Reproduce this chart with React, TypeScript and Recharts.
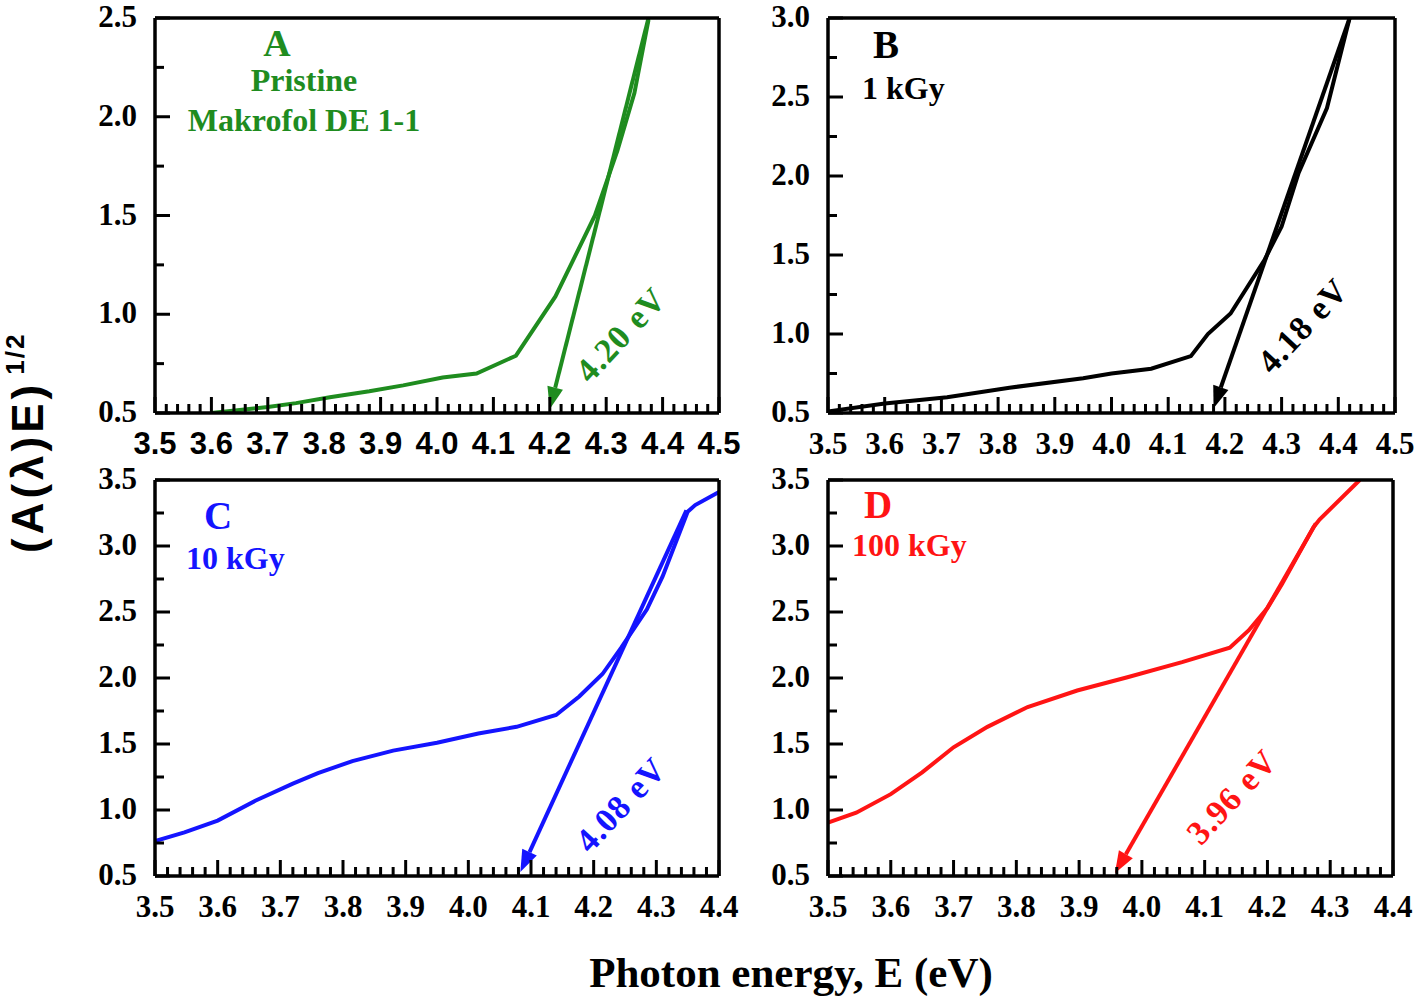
import React from 'react';
import { LineChart, Line, XAxis, YAxis, ReferenceLine } from 'recharts';

const GREEN = '#1f8c1f';
const BLACK = '#000000';
const BLUE = '#1414ff';
const RED = '#ff1414';

// A: pristine Makrofol DE 1-1
const pristineE = [3.6, 3.7, 3.75, 3.81, 3.88, 3.94, 4.01, 4.07, 4.14, 4.21, 4.28, 4.32, 4.35, 4.375];
const pristineY = [0.5, 0.53, 0.55, 0.58, 0.61, 0.64, 0.68, 0.7, 0.79, 1.09, 1.5, 1.83, 2.12, 2.49];
const pristineFitE = [4.375, 4.2];
const pristineFitY = [2.5, 0.52];

// B: 1 kGy
const dose1E = [3.5, 3.6, 3.71, 3.82, 3.95, 4.0, 4.07, 4.14, 4.17, 4.21, 4.27, 4.3, 4.33, 4.38, 4.42];
const dose1Y = [0.51, 0.56, 0.6, 0.66, 0.72, 0.75, 0.78, 0.86, 1.0, 1.13, 1.47, 1.68, 2.02, 2.43, 3.0];
const dose1FitE = [4.42, 4.18];
const dose1FitY = [3.0, 0.53];

// C: 10 kGy
const dose10E = [3.5, 3.547, 3.6, 3.66, 3.72, 3.76, 3.815, 3.88, 3.95, 4.016, 4.077, 4.14, 4.177, 4.214, 4.244, 4.285, 4.31, 4.35, 4.362, 4.4];
const dose10Y = [0.765, 0.83, 0.92, 1.07, 1.2, 1.28, 1.37, 1.45, 1.51, 1.58, 1.63, 1.72, 1.86, 2.03, 2.23, 2.52, 2.77, 3.26, 3.31, 3.41];
const dose10FitE = [4.348, 4.083];
const dose10FitY = [3.27, 0.53];

// D: 100 kGy
const dose100E = [3.5, 3.545, 3.6, 3.65, 3.7, 3.754, 3.818, 3.897, 3.977, 4.064, 4.14, 4.17, 4.2, 4.223, 4.273, 4.283, 4.347];
const dose100Y = [0.905, 0.98, 1.12, 1.285, 1.475, 1.63, 1.78, 1.905, 2.006, 2.12, 2.23, 2.36, 2.53, 2.71, 3.14, 3.2, 3.5];
const dose100FitE = [4.277, 3.957];
const dose100FitY = [3.17, 0.52];

// major tick labels
const xTicksWide = [3.5, 3.6, 3.7, 3.8, 3.9, 4.0, 4.1, 4.2, 4.3, 4.4, 4.5];
const xTicksNarrow = [3.5, 3.6, 3.7, 3.8, 3.9, 4.0, 4.1, 4.2, 4.3, 4.4];
const yTicksA = [0.5, 1.0, 1.5, 2.0, 2.5];
const yTicksB = [0.5, 1.0, 1.5, 2.0, 2.5, 3.0];
const yTicksCD = [0.5, 1.0, 1.5, 2.0, 2.5, 3.0, 3.5];

const SERIF = '"Liberation Serif", "Times New Roman", serif';
const SANS = '"Liberation Sans", Arial, sans-serif';

const toPoints = (xs: number[], ys: number[]) => xs.map((x, i) => ({ x, y: ys[i] }));

// add minor ticks between each pair of majors
const withMinor = (major: number[], parts: number) => {
  const out: number[] = [];
  for (let i = 0; i < major.length - 1; i++) {
    const step = (major[i + 1] - major[i]) / parts;
    for (let k = 0; k < parts; k++) out.push(Math.round((major[i] + k * step) * 1000) / 1000);
  }
  out.push(major[major.length - 1]);
  return out;
};

const isMajor = (v: number, major: number[]) => major.some((m) => Math.abs(m - v) < 1e-6);

const XTick = (props: any) => {
  const { x, y, payload, major, font } = props;
  const big = isMajor(payload.value, major);
  return (
    <g>
      <line x1={x} x2={x} y1={y} y2={y - (big ? 16 : 9)} stroke="#000" strokeWidth={3} />
      {big && (
        <text x={x} y={y + 41} textAnchor="middle" fontFamily={font} fontWeight="bold" fontSize={31} fill="#000">
          {payload.value.toFixed(1)}
        </text>
      )}
    </g>
  );
};

const YTick = (props: any) => {
  const { x, y, payload, major } = props;
  const big = isMajor(payload.value, major);
  return (
    <g>
      <line x1={x} x2={x + (big ? 15 : 9)} y1={y} y2={y} stroke="#000" strokeWidth={3} />
      {big && (
        <text x={x - 18} y={y + 9} textAnchor="end" fontFamily={SERIF} fontWeight="bold" fontSize={31} fill="#000">
          {payload.value.toFixed(1)}
        </text>
      )}
    </g>
  );
};

const arrowShape = (color: string) => (props: any) => {
  const { x1, y1, x2, y2 } = props;
  const ang = Math.atan2(y2 - y1, x2 - x1);
  const len = 22;
  const half = 8;
  const bx = x2 - len * Math.cos(ang);
  const by = y2 - len * Math.sin(ang);
  const px = -Math.sin(ang) * half;
  const py = Math.cos(ang) * half;
  return (
    <g>
      <line x1={x1} y1={y1} x2={bx} y2={by} stroke={color} strokeWidth={4} />
      <polygon points={`${x2},${y2} ${bx + px},${by + py} ${bx - px},${by - py}`} fill={color} />
    </g>
  );
};

type PanelProps = {
  box: { left: number; top: number; right: number; bottom: number };
  curveE: number[];
  curveY: number[];
  fitE: number[];
  fitY: number[];
  xMajor: number[];
  yMajor: number[];
  color: string;
  xFont: string;
};

const W = 1418;
const H = 999;
const frame = { stroke: '#000', strokeWidth: 3.5 };

const Panel = ({ box, curveE, curveY, fitE, fitY, xMajor, yMajor, color, xFont }: PanelProps) => {
  const xDomain = [xMajor[0], xMajor[xMajor.length - 1]];
  const yDomain = [yMajor[0], yMajor[yMajor.length - 1]];
  // every axis takes 1px so that Recharts draws it
  return (
    <div style={{ position: 'absolute', left: 0, top: 0 }}>
      <LineChart
        width={W}
        height={H}
        margin={{ left: box.left - 1, top: box.top - 1, right: W - box.right - 1, bottom: H - box.bottom - 1 }}
      >
        <XAxis
          dataKey="x"
          type="number"
          domain={xDomain}
          ticks={withMinor(xMajor, 5)}
          interval={0}
          allowDataOverflow
          height={1}
          tickSize={0}
          tickMargin={0}
          tickLine={false}
          axisLine={frame}
          tick={(p: any) => <XTick {...p} major={xMajor} font={xFont} />}
        />
        <XAxis
          xAxisId="top"
          orientation="top"
          type="number"
          domain={xDomain}
          height={1}
          tick={false}
          tickLine={false}
          axisLine={frame}
        />
        <YAxis
          type="number"
          domain={yDomain}
          ticks={withMinor(yMajor, 2)}
          interval={0}
          allowDataOverflow
          width={1}
          tickSize={0}
          tickMargin={0}
          tickLine={false}
          axisLine={frame}
          tick={(p: any) => <YTick {...p} major={yMajor} />}
        />
        <YAxis
          yAxisId="r"
          orientation="right"
          type="number"
          domain={yDomain}
          width={1}
          tick={false}
          tickLine={false}
          axisLine={frame}
        />
        <Line
          data={toPoints(curveE, curveY)}
          dataKey="y"
          type="linear"
          stroke={color}
          strokeWidth={4}
          dot={false}
          isAnimationActive={false}
        />
        <ReferenceLine
          segment={[
            { x: fitE[0], y: fitY[0] },
            { x: fitE[1], y: fitY[1] },
          ]}
          ifOverflow="visible"
          stroke={color}
          shape={arrowShape(color)}
        />
      </LineChart>
    </div>
  );
};

const bold = { fontFamily: SERIF, fontWeight: 'bold' as const };

const App = () => {
  return (
    <div style={{ position: 'absolute', left: 0, top: 0, width: W, height: H, background: '#fff' }}>
      <Panel
        box={{ left: 155, top: 18, right: 719, bottom: 413 }}
        curveE={pristineE}
        curveY={pristineY}
        fitE={pristineFitE}
        fitY={pristineFitY}
        xMajor={xTicksWide}
        yMajor={yTicksA}
        color={GREEN}
        xFont={SANS}
      />
      <Panel
        box={{ left: 828, top: 18, right: 1395, bottom: 413 }}
        curveE={dose1E}
        curveY={dose1Y}
        fitE={dose1FitE}
        fitY={dose1FitY}
        xMajor={xTicksWide}
        yMajor={yTicksB}
        color={BLACK}
        xFont={SERIF}
      />
      <Panel
        box={{ left: 155, top: 480, right: 719, bottom: 876 }}
        curveE={dose10E}
        curveY={dose10Y}
        fitE={dose10FitE}
        fitY={dose10FitY}
        xMajor={xTicksNarrow}
        yMajor={yTicksCD}
        color={BLUE}
        xFont={SERIF}
      />
      <Panel
        box={{ left: 828, top: 480, right: 1393, bottom: 876 }}
        curveE={dose100E}
        curveY={dose100Y}
        fitE={dose100FitE}
        fitY={dose100FitY}
        xMajor={xTicksNarrow}
        yMajor={yTicksCD}
        color={RED}
        xFont={SERIF}
      />
      <svg
        width={W}
        height={H}
        style={{ position: 'absolute', left: 0, top: 0, pointerEvents: 'none' }}
      >
        {/* panel A */}
        <text x={277} y={56} textAnchor="middle" fontSize={38} fill={GREEN} {...bold}>A</text>
        <text x={304} y={91} textAnchor="middle" fontSize={32} fill={GREEN} {...bold}>Pristine</text>
        <text x={304} y={131} textAnchor="middle" fontSize={32} fill={GREEN} {...bold}>Makrofol DE 1-1</text>
        <text transform="translate(621,335) rotate(-47)" x={0} y={11} textAnchor="middle" fontSize={34} letterSpacing={1} fill={GREEN} {...bold}>4.20 eV</text>
        {/* panel B */}
        <text x={886} y={58} textAnchor="middle" fontSize={39} fill={BLACK} {...bold}>B</text>
        <text x={862} y={99} fontSize={32} fill={BLACK} {...bold}>1 kGy</text>
        <text transform="translate(1303,326) rotate(-47)" x={0} y={11} textAnchor="middle" fontSize={34} letterSpacing={1} fill={BLACK} {...bold}>4.18 eV</text>
        {/* panel C */}
        <text x={218} y={529} textAnchor="middle" fontSize={39} fill={BLUE} {...bold}>C</text>
        <text x={186} y={569} fontSize={32} fill={BLUE} {...bold}>10 kGy</text>
        <text transform="translate(621,805) rotate(-47)" x={0} y={11} textAnchor="middle" fontSize={34} letterSpacing={1} fill={BLUE} {...bold}>4.08 eV</text>
        {/* panel D */}
        <text x={878} y={518} textAnchor="middle" fontSize={39} fill={RED} {...bold}>D</text>
        <text x={852} y={556} fontSize={32} fill={RED} {...bold}>100 kGy</text>
        <text transform="translate(1232,797) rotate(-47)" x={0} y={11} textAnchor="middle" fontSize={34} letterSpacing={1} fill={RED} {...bold}>3.96 eV</text>
        {/* shared axis titles */}
        <text transform="translate(43,553) rotate(-90)" fontFamily={SANS} fontWeight="bold" fontSize={44} letterSpacing={4} fill="#000">
          (A(λ)E)
          <tspan dx={6} dy={-19} fontSize={26} letterSpacing={2}>1/2</tspan>
        </text>
        <text x={791} y={987} textAnchor="middle" fontSize={43} fill="#000" {...bold}>
          Photon energy, E (eV)
        </text>
      </svg>
    </div>
  );
};

export default App;
